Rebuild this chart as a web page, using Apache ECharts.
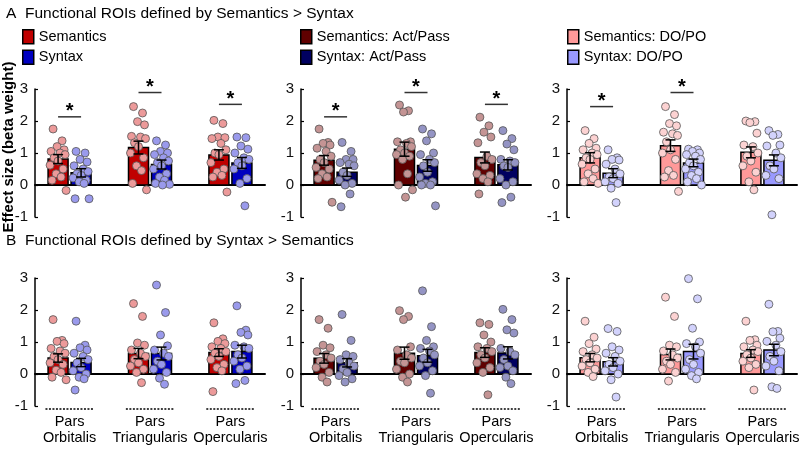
<!DOCTYPE html>
<html><head><meta charset="utf-8">
<script src="https://cdn.jsdelivr.net/npm/echarts@6/dist/echarts.min.js"></script>
<style>html,body{margin:0;padding:0;background:#fff}#c{width:800px;height:452px}</style>
</head><body><div id="c"></div>
<script>
const FONT = '"Liberation Sans", Arial, Helvetica, sans-serif';
const categories = ['Pars Orbitalis', 'Pars Triangularis', 'Pars Opercularis'];
const yTickValues = [-1, 0, 1, 2, 3];
const legendNames = [['Semantics', 'Syntax'], ['Semantics: Act/Pass', 'Syntax: Act/Pass'], ['Semantics: DO/PO', 'Syntax: DO/PO']];
const rowTitles = ['A  Functional ROIs defined by Semantics > Syntax', 'B  Functional ROIs defined by Syntax > Semantics'];
const yAxisTitle = 'Effect size (beta weight)';

// ---- Row A: fROIs defined by Semantics > Syntax ----
const a1SemMean = [0.81, 1.17, 0.94];
const a1SemSE = [0.14, 0.20, 0.16];
const a1SynMean = [0.38, 0.64, 0.69];
const a1SynSE = [0.13, 0.14, 0.17];
const a1Sig = [2.13, 2.89, 2.52];
const a1SemPts = [
  [1.75, 1.38, 1.2, 1.1, 1.05, 1.0, 0.95, 0.85, 0.75, 0.62, 0.5, 0.35, 0.25, 0.15, -0.17],
  [2.45, 2.25, 1.98, 1.88, 1.52, 1.5, 1.45, 1.32, 1.2, 1.0, 0.85, 0.6, 0.45, 0.05, -0.15],
  [2.02, 1.92, 1.5, 1.48, 1.45, 1.3, 1.1, 1.0, 0.95, 0.7, 0.5, 0.4, 0.3, 0.25, -0.22]];
const a1SynPts = [
  [1.05, 1.0, 0.8, 0.72, 0.6, 0.5, 0.42, 0.35, 0.3, 0.22, 0.15, 0.1, 0.05, -0.43, -0.43],
  [1.38, 1.25, 1.05, 1.0, 0.95, 0.85, 0.75, 0.7, 0.6, 0.5, 0.35, 0.25, 0.15, 0.05, 0.02, 0.0],
  [1.5, 1.48, 1.22, 1.12, 1.0, 0.85, 0.8, 0.7, 0.6, 0.5, 0.2, 0.05, -0.65]];

const a2SemMean = [0.77, 1.12, 0.86];
const a2SemSE = [0.15, 0.22, 0.17];
const a2SynMean = [0.40, 0.61, 0.63];
const a2SynSE = [0.13, 0.18, 0.16];
const a2Sig = [2.13, 2.89, 2.52];
const a2SemPts = [
  [1.75, 1.33, 1.3, 1.25, 1.15, 1.05, 0.9, 0.8, 0.7, 0.55, 0.5, 0.35, 0.25, 0.2, -0.54],
  [2.5, 2.32, 2.28, 1.35, 1.35, 1.3, 1.2, 1.1, 1.0, 0.95, 0.9, 0.8, 0.35, 0.0, -0.15, -0.38],
  [2.12, 1.85, 1.65, 1.5, 1.32, 0.9, 0.8, 0.7, 0.6, 0.35, 0.3, 0.2, 0.1, -0.28]];
const a2SynPts = [
  [1.33, 1.05, 0.8, 0.8, 0.7, 0.65, 0.6, 0.4, 0.3, 0.15, 0.05, 0.0, -0.28, -0.68],
  [1.75, 1.6, 1.38, 1.0, 0.95, 0.8, 0.7, 0.6, 0.4, 0.25, 0.1, 0.05, 0.0, 0.0, -0.65],
  [1.7, 1.45, 1.28, 1.1, 0.8, 0.75, 0.7, 0.6, 0.55, 0.2, 0.1, 0.0, -0.38, -0.55]];

const a3SemMean = [0.85, 1.23, 1.02];
const a3SemSE = [0.16, 0.18, 0.17];
const a3SynMean = [0.37, 0.69, 0.77];
const a3SynSE = [0.14, 0.12, 0.17];
const a3Sig = [2.45, 2.89, null];
const a3SemPts = [
  [1.7, 1.45, 1.3, 1.15, 1.1, 1.0, 0.95, 0.85, 0.8, 0.65, 0.5, 0.35, 0.2, 0.1, 0.05],
  [2.45, 2.2, 1.92, 1.85, 1.65, 1.6, 1.55, 1.35, 1.1, 1.0, 0.8, 0.45, 0.3, 0.25, -0.2],
  [2.0, 1.98, 1.95, 1.62, 1.25, 1.2, 1.0, 0.9, 0.75, 0.6, 0.4, 0.1, -0.15]];
const a3SynPts = [
  [1.1, 0.85, 0.8, 0.78, 0.65, 0.5, 0.35, 0.25, 0.2, 0.1, 0.05, -0.1, -0.55],
  [1.12, 1.1, 1.05, 1.0, 0.95, 0.9, 0.8, 0.7, 0.6, 0.5, 0.4, 0.3, 0.2, 0.1, 0.0],
  [1.7, 1.58, 1.55, 1.25, 1.22, 1.0, 0.85, 0.6, 0.5, 0.3, 0.2, -0.93]];

// ---- Row B: fROIs defined by Syntax > Semantics ----
const b1SemMean = [0.50, 0.64, 0.67];
const b1SemSE = [0.13, 0.16, 0.12];
const b1SynMean = [0.36, 0.64, 0.70];
const b1SynSE = [0.13, 0.20, 0.20];
const b1SemPts = [
  [1.7, 1.05, 1.02, 0.95, 0.8, 0.72, 0.65, 0.55, 0.45, 0.35, 0.3, 0.12, 0.05, -0.1, -0.18],
  [2.2, 1.8, 0.97, 0.9, 0.75, 0.65, 0.55, 0.45, 0.35, 0.25, 0.15, 0.05, -0.27],
  [1.6, 1.1, 1.02, 0.95, 0.85, 0.8, 0.7, 0.65, 0.55, 0.45, 0.3, 0.2, 0.1, -0.55]];
const b1SynPts = [
  [1.65, 0.9, 0.82, 0.75, 0.65, 0.55, 0.45, 0.35, 0.2, 0.1, 0.0, -0.1, -0.15, -0.5],
  [2.78, 1.92, 1.22, 0.88, 0.75, 0.65, 0.55, 0.4, 0.3, 0.15, 0.05, -0.13, -0.32],
  [2.13, 1.37, 1.3, 1.22, 0.9, 0.85, 0.8, 0.6, 0.5, 0.4, 0.25, 0.15, -0.2, -0.3]];

const b2SemMean = [0.49, 0.65, 0.67];
const b2SemSE = [0.15, 0.19, 0.15];
const b2SynMean = [0.35, 0.57, 0.66];
const b2SynSE = [0.13, 0.20, 0.19];
const b2SemPts = [
  [1.7, 1.43, 0.9, 0.82, 0.7, 0.6, 0.5, 0.4, 0.3, 0.2, 0.05, -0.1, -0.25],
  [1.98, 1.8, 1.7, 0.85, 0.75, 0.6, 0.5, 0.4, 0.35, 0.15, 0.0, -0.1, -0.25],
  [1.6, 1.55, 1.22, 1.0, 0.85, 0.8, 0.7, 0.6, 0.5, 0.35, 0.2, 0.05, -0.65]];
const b2SynPts = [
  [1.86, 1.05, 0.6, 0.55, 0.45, 0.35, 0.25, 0.15, 0.05, -0.05, -0.15, -0.25],
  [2.6, 1.48, 1.05, 0.85, 0.8, 0.72, 0.6, 0.5, 0.35, 0.25, 0.1, -0.05, -0.6],
  [2.02, 1.7, 1.38, 1.28, 0.8, 0.7, 0.6, 0.45, 0.25, 0.2, 0.1, -0.1, -0.3]];

const b3SemMean = [0.51, 0.61, 0.64];
const b3SemSE = [0.13, 0.17, 0.12];
const b3SynMean = [0.38, 0.70, 0.75];
const b3SynSE = [0.13, 0.23, 0.18];
const b3SemPts = [
  [1.65, 1.15, 0.95, 0.78, 0.7, 0.6, 0.5, 0.45, 0.35, 0.25, 0.15, 0.05, -0.08],
  [2.4, 1.8, 0.9, 0.85, 0.72, 0.6, 0.5, 0.4, 0.3, 0.15, 0.05, -0.22],
  [1.65, 1.07, 1.05, 0.9, 0.85, 0.75, 0.7, 0.6, 0.5, 0.4, 0.3, 0.2, -0.5]];
const b3SynPts = [
  [1.42, 1.33, 0.85, 0.75, 0.65, 0.55, 0.4, 0.3, 0.2, 0.1, 0.0, -0.18, -0.72],
  [2.98, 2.35, 1.43, 1.0, 0.95, 0.85, 0.65, 0.45, 0.3, 0.15, 0.05, -0.05, -0.15],
  [2.18, 1.33, 1.32, 1.12, 1.02, 0.9, 0.7, 0.55, 0.4, 0.25, 0.1, -0.4, -0.45]];

// ---- styles / layout ----
const barColors = [['#C00000', '#0000C0'], ['#600000', '#000060'], ['#FF9999', '#9999FF']];
const dotColors = [['#EC9A9A', '#9A9AEC'], ['#C49494', '#9494C4'], ['#FCD2D2', '#D2D2FC']];
const JITTER = [-5, 4, -1, 6, -7, 2, 7, -4, 0, -8, 5, -2, 3, -6, 8, 1]; // px horizontal spread of dots
const GRID_LEFT = [35, 301, 567];
const GRID_TOP = [89, 278];
const GRID_W = 230, GRID_H = 128;
const X_MIN = 0.57, X_MAX = 3.43;
const PX = GRID_W / (X_MAX - X_MIN);
const BAR_W = 20;
const OFF = 11.5 / PX;

const panels = [
  { row: 0, col: 0, mean: [a1SemMean, a1SynMean], se: [a1SemSE, a1SynSE], pts: [a1SemPts, a1SynPts], sig: a1Sig },
  { row: 0, col: 1, mean: [a2SemMean, a2SynMean], se: [a2SemSE, a2SynSE], pts: [a2SemPts, a2SynPts], sig: a2Sig },
  { row: 0, col: 2, mean: [a3SemMean, a3SynMean], se: [a3SemSE, a3SynSE], pts: [a3SemPts, a3SynPts], sig: a3Sig },
  { row: 1, col: 0, mean: [b1SemMean, b1SynMean], se: [b1SemSE, b1SynSE], pts: [b1SemPts, b1SynPts], sig: null },
  { row: 1, col: 1, mean: [b2SemMean, b2SynMean], se: [b2SemSE, b2SynSE], pts: [b2SemPts, b2SynPts], sig: null },
  { row: 1, col: 2, mean: [b3SemMean, b3SynMean], se: [b3SemSE, b3SynSE], pts: [b3SemPts, b3SynPts], sig: null }
];

const grid = [], xAxis = [], yAxis = [], series = [];
panels.forEach((p, k) => {
  grid.push({ left: GRID_LEFT[p.col], top: GRID_TOP[p.row], width: GRID_W, height: GRID_H });
  xAxis.push({
    gridIndex: k, type: 'value', min: X_MIN, max: X_MAX,
    axisLine: { show: true, onZero: true, lineStyle: { color: '#000', width: 2 } },
    axisTick: { show: false }, axisLabel: { show: false }, splitLine: { show: false }
  });
  yAxis.push({
    gridIndex: k, type: 'value', min: yTickValues[0], max: yTickValues[yTickValues.length - 1], interval: 1,
    axisLine: { show: true, lineStyle: { color: '#000', width: 1.5 } },
    axisTick: { show: true, inside: true, length: 3, lineStyle: { color: '#000', width: 1.2 } },
    axisLabel: { fontSize: 15, color: '#111', margin: 7, fontFamily: FONT },
    splitLine: { show: false }
  });
  [0, 1].forEach(s => {
    const off = s ? OFF : -OFF;
    const fill = barColors[p.col][s];
    series.push({
      type: 'custom', name: legendNames[p.col][s], xAxisIndex: k, yAxisIndex: k, z: 2,
      itemStyle: { color: fill, borderColor: '#000', borderWidth: 1.5 },
      data: p.mean[s].map((v, i) => [i + 1, v]),
      renderItem: (params, api) => {
        const x = api.value(0) + off;
        const top = api.coord([x, api.value(1)]);
        const base = api.coord([x, 0]);
        return { type: 'rect', shape: { x: top[0] - BAR_W / 2, y: Math.min(top[1], base[1]), width: BAR_W, height: Math.abs(base[1] - top[1]) },
          style: { fill: fill, stroke: '#000', lineWidth: 1.5 } };
      }
    });
    const dots = [];
    p.pts[s].forEach((arr, gi) => arr.forEach((v, j) => dots.push([gi + 1 + off + JITTER[j % JITTER.length] / PX, v])));
    series.push({
      type: 'scatter', name: legendNames[p.col][s] + ' subjects', xAxisIndex: k, yAxisIndex: k, z: 3,
      symbol: 'circle', symbolSize: 8, data: dots,
      itemStyle: { color: dotColors[p.col][s], borderColor: '#555', borderWidth: 0.8, opacity: 1 },
      emphasis: { disabled: true }
    });
    series.push({
      type: 'custom', name: legendNames[p.col][s] + ' SE', xAxisIndex: k, yAxisIndex: k, z: 4,
      data: p.mean[s].map((v, i) => [i + 1, v, p.se[s][i]]),
      renderItem: (params, api) => {
        const x = api.value(0) + off, m = api.value(1), e = api.value(2);
        const hi = api.coord([x, m + e]), lo = api.coord([x, m - e]);
        const st = { stroke: '#000', lineWidth: 1.5 };
        return { type: 'group', children: [
          { type: 'line', shape: { x1: hi[0], y1: hi[1], x2: lo[0], y2: lo[1] }, style: st },
          { type: 'line', shape: { x1: hi[0] - 5, y1: hi[1], x2: hi[0] + 5, y2: hi[1] }, style: st },
          { type: 'line', shape: { x1: lo[0] - 5, y1: lo[1], x2: lo[0] + 5, y2: lo[1] }, style: st }
        ] };
      }
    });
  });
  if (p.sig) {
    series.push({
      type: 'custom', name: 'sig', xAxisIndex: k, yAxisIndex: k, z: 4,
      data: p.sig.map((v, i) => v == null ? null : [i + 1, v]).filter(Boolean),
      renderItem: (params, api) => {
        const g = api.value(0), y = api.value(1);
        const a = api.coord([g - OFF, y]), b = api.coord([g + OFF, y]);
        return { type: 'group', children: [
          { type: 'line', shape: { x1: a[0], y1: a[1], x2: b[0], y2: b[1] }, style: { stroke: '#333', lineWidth: 1.5 } },
          { type: 'text', x: (a[0] + b[0]) / 2, y: a[1] - 5, style: { text: '*', fontSize: 20, fontWeight: 'bold', fontFamily: FONT, fill: '#000', align: 'center', verticalAlign: 'middle' } }
        ] };
      }
    });
  }
  if (p.row === 1) {
    series.push({
      type: 'custom', name: 'labels', xAxisIndex: k, yAxisIndex: k, z: 4, clip: false,
      data: categories.map((c, i) => [i + 1]),
      renderItem: (params, api) => {
        const g = api.value(0);
        const l = api.coord([g - 0.3, yTickValues[0]]), r = api.coord([g + 0.3, yTickValues[0]]);
        return { type: 'group', children: [
          { type: 'line', shape: { x1: l[0], y1: l[1] + 3, x2: r[0], y2: r[1] + 3 }, style: { stroke: '#000', lineWidth: 1.3, lineDash: [2, 1.5] } },
          { type: 'text', x: (l[0] + r[0]) / 2, y: l[1] + 8, style: { text: categories[params.dataIndex].replace(' ', '\n'), fontSize: 14.5, lineHeight: 16, fontFamily: FONT, fill: '#000', align: 'center', verticalAlign: 'top' } }
        ] };
      }
    });
  }
});

const option = {
  animation: false,
  backgroundColor: '#fff',
  title: rowTitles.map((t, i) => ({ text: t, left: 6, top: [6, 233][i], padding: 0,
    textStyle: { fontSize: 15.5, fontWeight: 'normal', color: '#000', fontFamily: FONT } })),
  legend: legendNames.map((names, c) => ({
    data: names, orient: 'vertical', left: [22, 300, 567][c], top: 29, padding: 0,
    itemWidth: 11, itemHeight: 14, itemGap: 5, icon: 'rect', selectedMode: false,
    itemStyle: { borderColor: '#000', borderWidth: 1.5 },
    textStyle: { fontSize: 14.5, color: '#000', fontFamily: FONT }
  })),
  graphic: [{ type: 'text', x: 9, y: 147, rotation: Math.PI / 2,
    style: { text: yAxisTitle, fontSize: 15, fontWeight: 'bold', fontFamily: FONT, fill: '#000', align: 'center', verticalAlign: 'middle' } }],
  grid, xAxis, yAxis, series
};
const chart = echarts.init(document.getElementById('c'), null, { renderer: 'canvas' });
chart.setOption(option);
</script></body></html>
